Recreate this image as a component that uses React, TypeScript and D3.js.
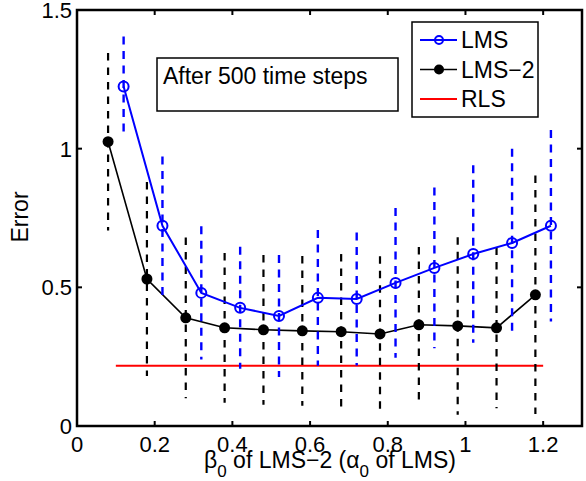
import React from "react";
import * as d3 from "d3";

const lmsX = [0.12, 0.22, 0.32, 0.42, 0.52, 0.62, 0.72, 0.82, 0.92, 1.02, 1.12, 1.22];
const lmsMean = [1.224, 0.722, 0.48, 0.426, 0.397, 0.462, 0.458, 0.516, 0.57, 0.62, 0.66, 0.722];
const lmsErr = [0.18, 0.25, 0.24, 0.22, 0.22, 0.245, 0.24, 0.27, 0.29, 0.32, 0.34, 0.345];

const lms2X = [0.08, 0.18, 0.28, 0.38, 0.48, 0.58, 0.68, 0.78, 0.88, 0.98, 1.08, 1.18];
const lms2Mean = [1.025, 0.53, 0.39, 0.354, 0.347, 0.343, 0.34, 0.332, 0.365, 0.361, 0.354, 0.473];
const lms2Err = [0.32, 0.35, 0.29, 0.27, 0.27, 0.27, 0.28, 0.28, 0.28, 0.32, 0.29, 0.43];

const rlsX = [0.1, 1.2];
const rlsY = [0.217, 0.217];

const xTicks = [0, 0.2, 0.4, 0.6, 0.8, 1, 1.2];
const yTicks = [0, 0.5, 1, 1.5];
const legendLabels = ["LMS", "LMS\u22122", "RLS"];
const annotation = "After 500 time steps";

const W = 586;
const H = 481;
const L = 77, R = 582, T = 10, B = 426;
const FONT = "'Liberation Sans', Arial, Helvetica, sans-serif";

export default function App() {
  const x = d3.scaleLinear().domain([0, 1.3]).range([L, R]);
  const y = d3.scaleLinear().domain([0, 1.5]).range([B, T]);
  const line = d3.line<[number, number]>().x((d) => x(d[0])).y((d) => y(d[1]));

  const lmsPts: [number, number][] = lmsX.map((v, i) => [v, lmsMean[i]]);
  const lms2Pts: [number, number][] = lms2X.map((v, i) => [v, lms2Mean[i]]);
  const rlsPts: [number, number][] = rlsX.map((v, i) => [v, rlsY[i]]);

  const tickLen = 5;
  const colors = ["#0000ff", "#000000", "#ff0000"];

  return (
    <svg width={W} height={H} style={{ position: "absolute", left: 0, top: 0, background: "#fff" }} fontFamily={FONT}>
      <rect x={0} y={0} width={W} height={H} fill="#fff" />
      {/* RLS */}
      <path d={line(rlsPts) || ""} stroke="#ff0000" strokeWidth={2} fill="none" />
      {/* LMS-2 error bars */}
      {lms2X.map((v, i) => (
        <line key={"e2" + i} x1={x(v)} x2={x(v)} y1={y(lms2Mean[i] + lms2Err[i])} y2={y(lms2Mean[i] - lms2Err[i])}
          stroke="#000" strokeWidth={2.2} strokeDasharray="7.5,7" />
      ))}
      <path d={line(lms2Pts) || ""} stroke="#000" strokeWidth={1.6} fill="none" />
      {lms2Pts.map((p, i) => (
        <circle key={"m2" + i} cx={x(p[0])} cy={y(p[1])} r={5.5} fill="#000" />
      ))}
      {/* LMS error bars */}
      {lmsX.map((v, i) => (
        <line key={"e1" + i} x1={x(v)} x2={x(v)} y1={y(lmsMean[i] + lmsErr[i])} y2={y(lmsMean[i] - lmsErr[i])}
          stroke="#0000ff" strokeWidth={2.4} strokeDasharray="8,6.5" />
      ))}
      <path d={line(lmsPts) || ""} stroke="#0000ff" strokeWidth={2} fill="none" />
      {lmsPts.map((p, i) => (
        <circle key={"m1" + i} cx={x(p[0])} cy={y(p[1])} r={5} fill="none" stroke="#0000ff" strokeWidth={2} />
      ))}

      {/* axes box */}
      <rect x={L} y={T} width={R - L} height={B - T} fill="none" stroke="#000" strokeWidth={2.5} />
      {xTicks.map((t) => (
        <g key={"xt" + t}>
          <line x1={x(t)} x2={x(t)} y1={B} y2={B - tickLen} stroke="#000" strokeWidth={2} />
          <line x1={x(t)} x2={x(t)} y1={T} y2={T + tickLen} stroke="#000" strokeWidth={2} />
          <text x={x(t)} y={452} textAnchor="middle" fontSize={22}>{String(t)}</text>
        </g>
      ))}
      {yTicks.map((t) => (
        <g key={"yt" + t}>
          <line x1={L} x2={L + tickLen} y1={y(t)} y2={y(t)} stroke="#000" strokeWidth={2} />
          <line x1={R} x2={R - tickLen} y1={y(t)} y2={y(t)} stroke="#000" strokeWidth={2} />
          <text x={72} y={y(t)} dy="0.36em" textAnchor="end" fontSize={22}>{String(t)}</text>
        </g>
      ))}

      {/* axis labels */}
      <text x={28} y={217} transform="rotate(-90 28 217)" textAnchor="middle" fontSize={23}>Error</text>
      <text x={330} y={468} textAnchor="middle" fontSize={23}>
        <tspan>β</tspan>
        <tspan fontSize={17} dy={9}>0</tspan>
        <tspan dy={-9}> of LMS{"\u2212"}2 (α</tspan>
        <tspan fontSize={17} dy={9}>0</tspan>
        <tspan dy={-9}> of LMS)</tspan>
      </text>

      {/* annotation box */}
      <rect x={157} y={58} width={241} height={53} fill="#fff" stroke="#000" strokeWidth={1.5} />
      <text x={163} y={84} fontSize={23}>{annotation}</text>

      {/* legend */}
      <rect x={412} y={22} width={126} height={95} fill="#fff" stroke="#000" strokeWidth={1.5} />
      {legendLabels.map((lab, i) => {
        const ly = 40 + i * 29.5;
        return (
          <g key={"lg" + i}>
            <line x1={420} x2={457} y1={ly} y2={ly} stroke={colors[i]} strokeWidth={i === 0 ? 2 : i === 1 ? 1.6 : 2} />
            {i === 0 && <circle cx={439} cy={ly} r={4} fill="none" stroke="#0000ff" strokeWidth={2} />}
            {i === 1 && <circle cx={439} cy={ly} r={5} fill="#000" />}
            <text x={461} y={ly + 8} fontSize={23}>{lab}</text>
          </g>
        );
      })}
    </svg>
  );
}
